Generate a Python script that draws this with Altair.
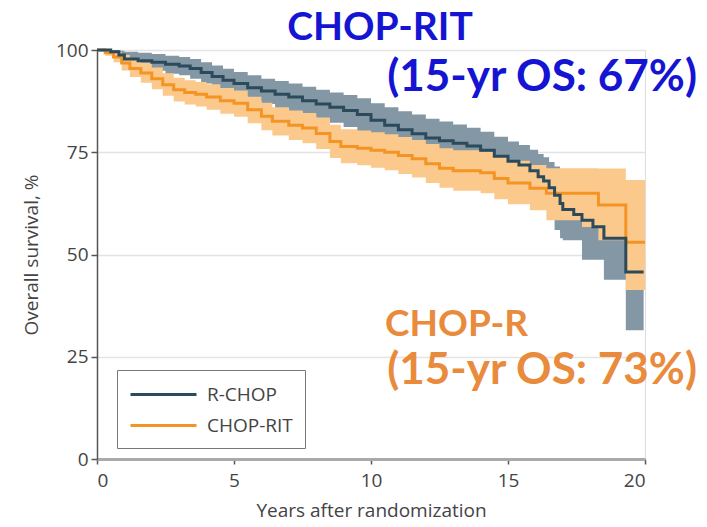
import altair as alt
import pandas as pd

# ---- data ----
rchop_t = [0, 0.5, 0.8, 1.0, 1.5, 2.0, 2.5, 3.0, 3.4, 3.8, 4.2, 4.6, 5.0, 5.5, 6.0, 6.5, 7.0, 7.5, 8.0, 8.5,
           9.0, 9.5, 10.0, 10.5, 11.0, 11.5, 12.0, 12.5, 13.0, 13.5, 14.0, 14.5, 15.0, 15.4, 15.8, 16.1, 16.3,
           16.5, 16.7, 16.9, 17.0, 17.4, 17.7, 18.1, 18.5, 19.3, 19.95]
rchop_s = [100, 99.6, 98.8, 97.8, 97.4, 97.0, 96.5, 96.1, 95.5, 94.5, 93.5, 92.6, 91.8, 90.8, 90.0, 89.2, 88.5,
           87.6, 86.8, 86.0, 85.2, 84.2, 82.8, 81.6, 80.5, 79.5, 78.5, 77.8, 77.2, 76.5, 75.5, 74.0, 72.8, 71.9,
           70.5, 69.0, 68.0, 66.3, 64.5, 62.5, 61.0, 59.8, 58.4, 56.8, 54.0, 45.7, 45.7]
rchop_hi = [100, 100, 99.8, 99.6, 99.3, 99.0, 98.6, 98.3, 97.8, 97.0, 96.2, 95.4, 94.6, 93.8, 93.0, 92.4, 91.8,
            91.0, 90.3, 89.6, 89.0, 88.2, 87.0, 86.0, 85.0, 84.2, 83.2, 82.5, 81.8, 81.0, 80.0, 78.8, 77.6, 76.8,
            75.6, 74.6, 73.8, 72.6, 71.5, 70.0, 68.8, 67.8, 66.6, 65.2, 63.0, 59.0, 59.0]
rchop_lo = [100, 99.0, 97.6, 96.0, 95.4, 94.9, 94.2, 93.8, 93.0, 91.8, 90.6, 89.6, 88.8, 87.6, 86.8, 85.8, 85.0,
            84.0, 83.0, 82.2, 81.2, 80.0, 78.6, 77.2, 76.0, 74.8, 73.8, 73.0, 72.2, 71.4, 70.2, 68.5, 67.0, 66.0,
            64.4, 62.8, 61.6, 59.8, 56.0, 54.0, 53.5, 53.5, 48.7, 48.7, 43.8, 31.5, 31.5]

rit_t = [0, 0.3, 0.6, 0.9, 1.2, 1.6, 2.0, 2.4, 2.8, 3.2, 3.6, 4.0, 4.5, 5.0, 5.5, 6.0, 6.4, 7.0, 7.5, 8.0, 8.5,
         8.9, 9.5, 10.0, 10.5, 11.0, 11.5, 12.0, 12.5, 13.0, 14.0, 14.5, 15.0, 15.8, 16.4, 17.7, 18.3, 19.3, 20.0]
rit_s = [100, 99.3, 98.3, 96.8, 95.5, 94.4, 93.0, 91.5, 90.3, 89.6, 89.2, 88.5, 87.6, 87.0, 85.4, 83.8, 82.6,
         81.6, 80.9, 79.6, 77.6, 76.4, 76.0, 75.5, 75.0, 74.2, 73.4, 72.2, 71.1, 70.5, 70.0, 68.6, 67.5, 66.2,
         65.0, 65.0, 62.1, 53.0, 53.0]
rit_hi = [100, 100, 99.6, 98.8, 97.8, 96.9, 95.7, 94.3, 93.2, 92.6, 92.2, 91.6, 90.7, 90.1, 88.6, 87.1, 86.0,
          85.2, 84.6, 83.5, 81.7, 80.6, 80.3, 79.9, 79.4, 78.7, 78.0, 77.0, 76.0, 75.5, 75.1, 73.9, 72.9, 71.9,
          71.1, 71.1, 71.0, 68.2, 68.2]
rit_lo = [100, 98.6, 97.0, 95.0, 93.4, 92.0, 90.4, 88.8, 87.4, 86.7, 86.2, 85.4, 84.4, 83.7, 82.1, 80.4, 79.1,
          78.0, 77.2, 75.8, 73.6, 72.3, 71.8, 71.2, 70.6, 69.7, 68.8, 67.5, 66.3, 65.6, 65.0, 63.5, 62.3, 60.8,
          58.4, 56.7, 53.5, 41.3, 41.3]

groups = ["R-CHOP", "CHOP-RIT"]
x_ticks = [0, 5, 10, 15, 20]
y_ticks = [0, 25, 50, 75, 100]

DARK = "#2b4a5b"
GREY = "#8397a5"
ORANGE = "#f39424"
LORANGE = "#fcc98c"

rchop = pd.DataFrame({"t": rchop_t, "s": rchop_s, "hi": rchop_hi, "lo": rchop_lo, "g": groups[0]})
rit = pd.DataFrame({"t": rit_t, "s": rit_s, "hi": rit_hi, "lo": rit_lo, "g": groups[1]})

xs = alt.Scale(domain=[0, 20], nice=False)
ys = alt.Scale(domain=[0, 100], nice=False)

AF = "Open Sans"
xax = alt.Axis(values=x_ticks, title="Years after randomization", grid=False, labelFontSize=19,
               titleFontSize=19, labelColor="#444", titleColor="#444", domainColor="#aaa",
               domainWidth=3, tickColor="#555", tickSize=5, tickWidth=1.5, labelPadding=7,
               titlePadding=11, titleFont=AF, labelFont=AF, titleFontWeight="normal")
yax = alt.Axis(values=y_ticks, title="Overall survival, %", grid=True, gridColor="#e4e4e4", gridWidth=1.5,
               labelFontSize=19, titleFontSize=19, labelColor="#444", titleColor="#444",
               domainColor="#555", domainWidth=1.5, tickColor="#555", tickSize=6, tickWidth=1.5,
               labelPadding=3, titlePadding=14, titleFont=AF, labelFont=AF,
               titleFontWeight="normal")

band_r = alt.Chart(rchop).mark_area(interpolate="step-after", color=GREY, opacity=1).encode(
    x=alt.X("t:Q", scale=xs, axis=xax), y=alt.Y("hi:Q", scale=ys, axis=yax), y2="lo:Q")
band_o = alt.Chart(rit).mark_area(interpolate="step-after", color=LORANGE, opacity=1).encode(
    x=alt.X("t:Q", scale=xs), y=alt.Y("hi:Q", scale=ys), y2="lo:Q")

color = alt.Color("g:N", scale=alt.Scale(domain=groups, range=[DARK, ORANGE]), sort=groups,
                  legend=alt.Legend(title=None, orient="none", legendX=20, legendY=320,
                                    strokeColor="#777", padding=12, labelFontSize=19, labelColor="#444",
                                    labelFont=AF, symbolType="M-1,0H5", symbolSize=484,
                                    symbolStrokeWidth=3, rowPadding=8, labelOffset=53,
                                    fillColor="white"))

line_o = alt.Chart(rit).mark_line(interpolate="step-after", strokeWidth=3).encode(
    x="t:Q", y="s:Q", color=color)
line_r = alt.Chart(rchop).mark_line(interpolate="step-after", strokeWidth=3).encode(
    x="t:Q", y="s:Q", color=color)

ann_font = "Lato"
BLUE = "#1414d2"
ORT = "#e98b3d"
t1 = alt.Chart(rchop.head(1)).mark_text(text="CHOP-RIT", font=ann_font, fontWeight="bold", fontSize=39,
                                         color=BLUE, align="center", baseline="alphabetic").encode(
    x=alt.value(283), y=alt.value(-10))
t2 = alt.Chart(rchop.head(1)).mark_text(text="(15-yr OS: 67%)", font=ann_font, fontWeight="bold", fontSize=44,
                                         color=BLUE, align="right", baseline="alphabetic").encode(
    x=alt.value(600), y=alt.value(41))
t3 = alt.Chart(rchop.head(1)).mark_text(text="CHOP-R", font=ann_font, fontWeight="bold", fontSize=37,
                                         color=ORT, align="left", baseline="alphabetic").encode(
    x=alt.value(288), y=alt.value(286))
t4 = alt.Chart(rchop.head(1)).mark_text(text="(15-yr OS: 73%)", font=ann_font, fontWeight="bold", fontSize=44,
                                         color=ORT, align="right", baseline="alphabetic").encode(
    x=alt.value(600), y=alt.value(334))

chart = alt.layer(band_r, band_o, line_o, line_r, t1, t2, t3, t4).properties(
    width=548, height=409,
    autosize=alt.AutoSizeParams(type="none"),
    padding={"left": 97, "top": 50, "right": 62, "bottom": 68},
).configure_view(stroke=None).configure(background="white")

chart.save("out.html", embed_options={"renderer": "svg", "actions": False})
